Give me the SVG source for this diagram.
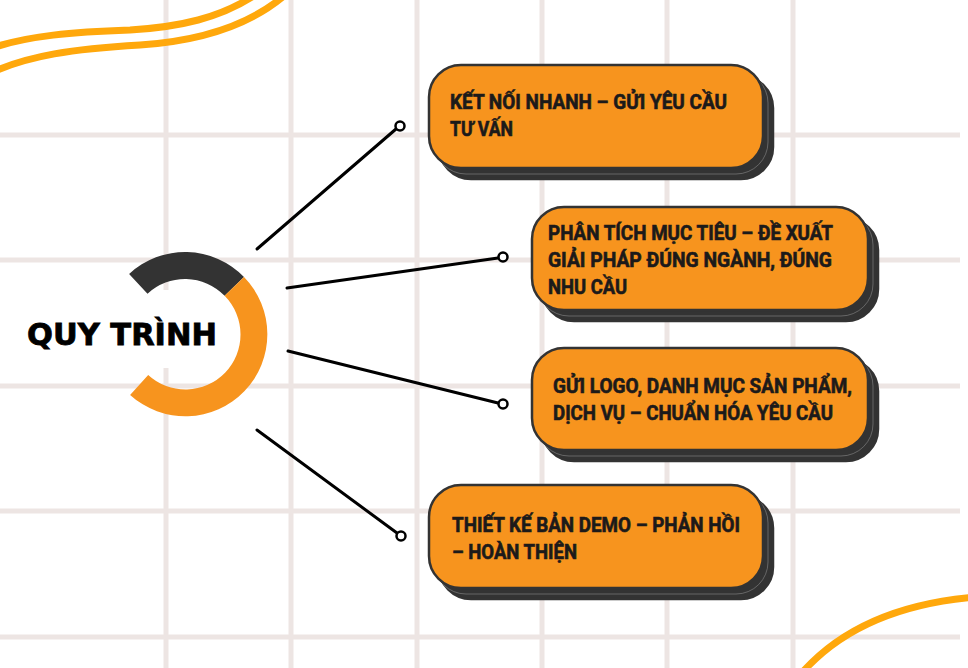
<svg xmlns="http://www.w3.org/2000/svg" width="968" height="668" viewBox="0 0 968 668">
<style>
.grid line{stroke:#ede5e3;stroke-width:5}
.wave{fill:none;stroke:#ffa80c;stroke-width:7;stroke-linecap:round}
.sh2{fill:#333333;stroke:#333333;stroke-width:2.5}
.sh1{fill:#333333;stroke:#8a8a8a;stroke-width:0.6}
.box{fill:#f7941e;stroke:#333333;stroke-width:2.5}
.lbl{font-family:Roboto,"Liberation Sans",sans-serif;font-weight:700;font-size:19.5px;fill:#1c1a1a;stroke:#1c1a1a;stroke-width:0.6}
.conn line{stroke:#000;stroke-width:3;stroke-linecap:round}
.conn circle{fill:#fff;stroke:#000;stroke-width:2.5}
.title{font-family:"DejaVu Sans","Liberation Sans",sans-serif;font-weight:700;font-size:31px;fill:#000;stroke:#000;stroke-width:0.8}
</style>
<rect x="0" y="0" width="968" height="668" fill="#ffffff"/>
<g id="grid" class="grid">
<line x1="166" y1="0" x2="166" y2="668"/>
<line x1="291" y1="0" x2="291" y2="668"/>
<line x1="417" y1="0" x2="417" y2="668"/>
<line x1="542" y1="0" x2="542" y2="668"/>
<line x1="667" y1="0" x2="667" y2="668"/>
<line x1="793" y1="0" x2="793" y2="668"/>
<line x1="0" y1="135" x2="960" y2="135"/>
<line x1="0" y1="260" x2="960" y2="260"/>
<line x1="0" y1="386" x2="960" y2="386"/>
<line x1="0" y1="511" x2="960" y2="511"/>
<line x1="0" y1="637" x2="960" y2="637"/>
</g>
<g id="decor">
<path class="wave" d="M -5 47 C 30 36, 70 32, 130 30 C 180 27, 220 18, 255 -5"/>
<path class="wave" d="M -5 71 C 30 56, 70 49, 140 45 C 200 41, 250 25, 285 -5"/>
<path class="wave" d="M 800 675 C 830 640, 880 605, 975 597"/>
</g>
<g id="center">
<rect x="10" y="290" width="225" height="78" fill="#ffffff"/>
<path d="M 129.1 274 A 82 82 0 0 1 244 277 L 224.6 295.8 A 55 55 0 0 0 147.5 293.8 Z" fill="#333333"/>
<path d="M 244 277 A 82 82 0 0 1 130.1 394.9 L 148.2 374.9 A 55 55 0 0 0 224.6 295.8 Z" fill="#f7941e"/>
<text class="title" x="27" y="345" textLength="190" lengthAdjust="spacingAndGlyphs">QUY TRÌNH</text>
</g>
<g id="connectors" class="conn">
<line x1="257" y1="249" x2="396" y2="129"/>
<circle cx="400" cy="126" r="4.5"/>
<line x1="287" y1="288" x2="498" y2="258"/>
<circle cx="503" cy="257" r="4.5"/>
<line x1="288" y1="351" x2="498" y2="403"/>
<circle cx="503" cy="404" r="4.5"/>
<line x1="257" y1="430" x2="397" y2="533"/>
<circle cx="401" cy="536" r="4.5"/>
</g>
<g id="step1">
<rect class="sh2" x="439" y="76" width="334" height="103" rx="32"/>
<rect class="sh1" x="434" y="71" width="334" height="103" rx="32"/>
<rect class="box" x="429" y="65" width="334" height="103" rx="32"/>
<text class="lbl" x="450" y="109" textLength="277" lengthAdjust="spacingAndGlyphs">KẾT NỐI NHANH – GỬI YÊU CẦU</text>
<text class="lbl" x="450" y="136" textLength="63" lengthAdjust="spacingAndGlyphs">TƯ VẤN</text>
</g>
<g id="step2">
<rect class="sh2" x="542" y="218" width="336" height="103" rx="32"/>
<rect class="sh1" x="537" y="213" width="336" height="103" rx="32"/>
<rect class="box" x="532" y="207" width="336" height="103" rx="32"/>
<text class="lbl" x="548" y="240" textLength="285" lengthAdjust="spacingAndGlyphs">PHÂN TÍCH MỤC TIÊU – ĐỀ XUẤT</text>
<text class="lbl" x="548" y="267" textLength="284" lengthAdjust="spacingAndGlyphs">GIẢI PHÁP ĐÚNG NGÀNH, ĐÚNG</text>
<text class="lbl" x="548" y="294" textLength="79" lengthAdjust="spacingAndGlyphs">NHU CẦU</text>
</g>
<g id="step3">
<rect class="sh2" x="542" y="359" width="336" height="102" rx="32"/>
<rect class="sh1" x="537" y="354" width="336" height="102" rx="32"/>
<rect class="box" x="532" y="348" width="336" height="102" rx="32"/>
<text class="lbl" x="553" y="393" textLength="299" lengthAdjust="spacingAndGlyphs">GỬI LOGO, DANH MỤC SẢN PHẨM,</text>
<text class="lbl" x="553" y="420" textLength="280" lengthAdjust="spacingAndGlyphs">DỊCH VỤ – CHUẨN HÓA YÊU CẦU</text>
</g>
<g id="step4">
<rect class="sh2" x="439" y="496" width="334" height="103" rx="32"/>
<rect class="sh1" x="434" y="491" width="334" height="103" rx="32"/>
<rect class="box" x="429" y="485" width="334" height="103" rx="32"/>
<text class="lbl" x="452" y="532" textLength="288" lengthAdjust="spacingAndGlyphs">THIẾT KẾ BẢN DEMO – PHẢN HỒI</text>
<text class="lbl" x="452" y="559" textLength="125" lengthAdjust="spacingAndGlyphs">– HOÀN THIỆN</text>
</g>
</svg>
